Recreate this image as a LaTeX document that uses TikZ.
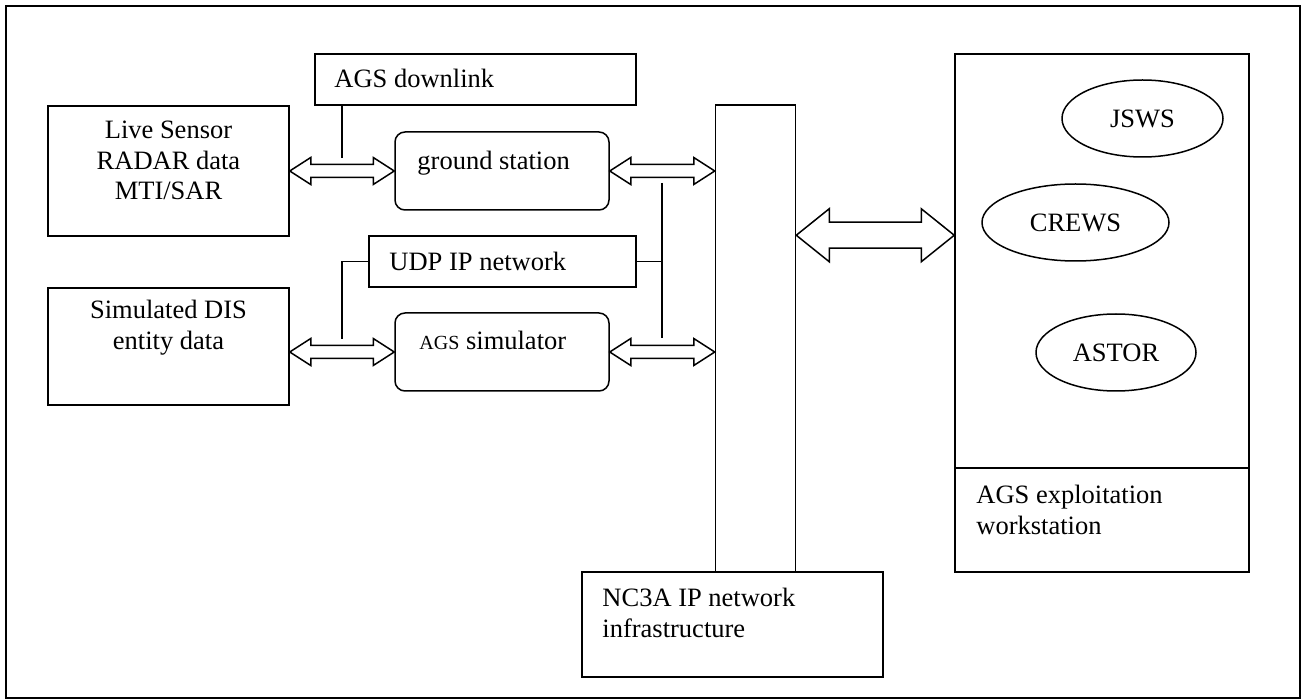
\documentclass[tikz,border=0pt]{standalone}
\usepackage{fontspec}
\setmainfont{Liberation Serif}
\usetikzlibrary{calc,shapes.geometric}

\tikzset{
    blk/.style={draw, line width=1.5pt, rectangle, inner sep=0pt},
    rblk/.style={blk, rounded corners=10pt},
    oval/.style={draw, line width=1.5pt, ellipse, inner sep=0pt, font=\fontsize{26.5}{30.5}\selectfont},
    txt/.style={inner sep=0pt, font=\fontsize{26.5}{30.5}\selectfont},
    wire/.style={line width=1.5pt}
}

% fat double arrow: from, to, shaft half, head half, head length
\newcommand{\fatarrow}[5]{%
    \draw[wire, fill=white, line join=miter] let \p1=(#1), \p2=(#2) in
        (\x1,\y1) -- (\x1+#5pt,\y1+#4pt) -- (\x1+#5pt,\y1+#3pt) -- (\x2-#5pt,\y1+#3pt)
        -- (\x2-#5pt,\y1+#4pt) -- (\x2,\y1) -- (\x2-#5pt,\y1-#4pt) -- (\x2-#5pt,\y1-#3pt)
        -- (\x1+#5pt,\y1-#3pt) -- (\x1+#5pt,\y1-#4pt) -- cycle;
}

\begin{document}
\begin{tikzpicture}[x=1pt, y=-1pt]
\useasboundingbox (0,0) rectangle (1302,700);
\draw[line width=2.5pt] (6,6) rectangle (1300,698);

% sources
\node[blk, minimum width=241pt, minimum height=130pt] (live) at (168.5,171) {};
\node[txt, anchor=north, align=center] (live-t) at ($(live.north)+(0,16)$) {Live Sensor\\RADAR data\\MTI/SAR};
\node[blk, minimum width=241pt, minimum height=117pt] (sim) at (168.5,346.5) {};
\node[txt, anchor=north, align=center] (sim-t) at ($(sim.north)+(0,13)$) {Simulated DIS\\entity data};

% middle column
\node[blk, minimum width=321pt, minimum height=51pt] (dl) at (475.5,79.5) {};
\node[txt, anchor=base west] (dl-t) at ($(dl.north west)+(20,34)$) {AGS downlink};
\node[rblk, minimum width=214pt, minimum height=78pt] (gs) at (502,171) {};
\node[txt, anchor=base west] (gs-t) at ($(gs.north west)+(23,38)$) {ground station};
\node[blk, minimum width=267pt, minimum height=51pt] (udp) at (502.5,261.5) {};
\node[txt, anchor=base west] (udp-t) at ($(udp.north west)+(21,35)$) {UDP IP network};
\node[rblk, minimum width=214pt, minimum height=78pt] (agss) at (502,352) {};
\node[txt, anchor=base west] (agss-t) at ($(agss.north west)+(25,37)$) {{\fontsize{20}{24}\selectfont AGS} simulator};

% network
\node[blk, minimum width=80pt, minimum height=467pt] (pillar) at (755.5,338.5) {};
\node[blk, minimum width=301pt, minimum height=105pt] (nc3a) at (732.5,624.5) {};
\node[txt, anchor=north west, align=left] (nc3a-t) at ($(nc3a.north west)+(21,17)$) {NC3A IP network\\infrastructure};

% workstation
\node[blk, minimum width=294pt, minimum height=414pt] (ws) at (1102,261) {};
\node[blk, minimum width=294pt, minimum height=104pt] (wsl) at (1102,520) {};
\node[txt, anchor=north west, align=left] (wsl-t) at ($(wsl.north west)+(22,18)$) {AGS exploitation\\workstation};
\node[oval, minimum width=161pt, minimum height=77pt] (jsws) at (1142.5,118.5) {JSWS};
\node[oval, minimum width=187pt, minimum height=77pt] (crews) at (1075.5,222.5) {CREWS};
\node[oval, minimum width=160pt, minimum height=77pt] (astor) at (1116,352.5) {ASTOR};

% connectors
\coordinate (dlfoot) at (342,158);
\coordinate (udpfoot) at (342,339);
\coordinate (bustop) at (662,183);
\coordinate (busbot) at (662,338);
\coordinate (bigy) at ($(pillar.north east)+(0,131)$);

\draw[wire] (dlfoot |- dl.south) -- (dlfoot);
\draw[wire] (udp.west) -| (udpfoot);
\draw[wire] (bustop) -- (busbot);
\draw[wire] (udp.east) -- (udp.east -| bustop);

\fatarrow{live.east}{gs.west}{6.5}{13.5}{21}
\fatarrow{gs.east}{gs.east -| pillar.west}{6.5}{13.5}{21}
\fatarrow{sim.east |- agss.west}{agss.west}{6.5}{13.5}{21}
\fatarrow{agss.east}{agss.east -| pillar.west}{6.5}{13.5}{21}
\fatarrow{bigy}{bigy -| ws.west}{13}{26.5}{33}
\end{tikzpicture}
\end{document}
